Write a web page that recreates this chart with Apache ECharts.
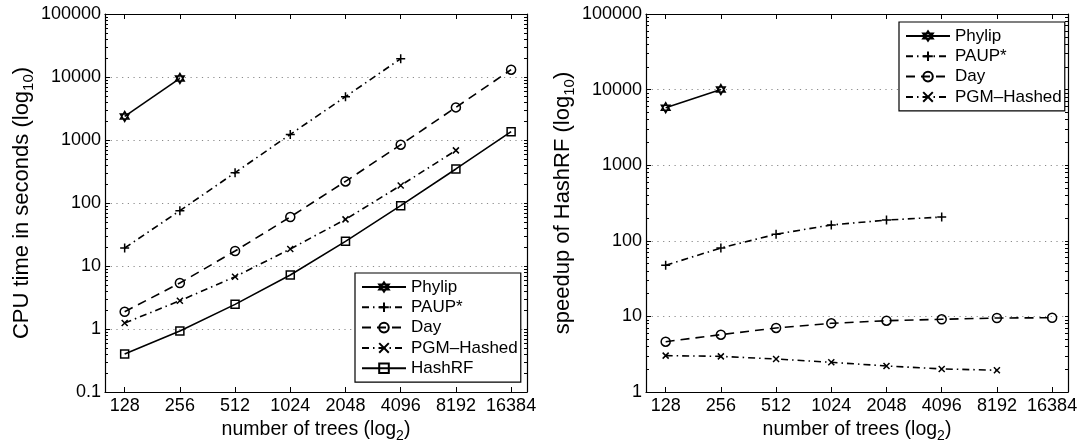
<!DOCTYPE html>
<html><head><meta charset="utf-8">
<script src="https://cdn.jsdelivr.net/npm/echarts@6/dist/echarts.min.js"></script>
<style>html,body{margin:0;padding:0;background:#fff}#c{width:1078px;height:443px}</style>
</head><body><div id="c"></div>
<script>
// ---- data ----
const trees = [128, 256, 512, 1024, 2048, 4096, 8192, 16384];
// left: CPU time in seconds
const cpuPhylip = [2370, 9500];
const cpuPaup = [19.3, 75.5, 303, 1227, 4870, 19500];
const cpuDay = [1.88, 5.37, 17.3, 60, 220, 842, 3295, 13060];
const cpuPgm = [1.245, 2.81, 6.76, 18.6, 55, 190, 684];
const cpuHashRF = [0.40, 0.93, 2.46, 7.2, 24.6, 90.6, 347, 1355];
// right: speedup of HashRF
const spPhylip = [5770, 10000];
const spPaup = [47.4, 80.3, 122, 162, 188, 206];
const spDay = [4.63, 5.73, 7.03, 8.1, 8.77, 9.15, 9.52, 9.6];
const spPgm = [3.03, 2.96, 2.73, 2.47, 2.21, 2.02, 1.94];
const namesLeft = ['Phylip', 'PAUP*', 'Day', 'PGM\u2013Hashed', 'HashRF'];
const namesRight = ['Phylip', 'PAUP*', 'Day', 'PGM\u2013Hashed'];
const yMajorLeft = [0.1, 1, 10, 100, 1000, 10000, 100000];
const yMajorRight = [1, 10, 100, 1000, 10000, 100000];

// ---- helpers ----
const FONT = 'Liberation Sans, Arial, Helvetica, sans-serif';
const pairs = vals => vals.map((v, i) => [trees[i], v]);
function minorTicks(majors) {
  const out = [];
  for (let k = 0; k < majors.length - 1; k++) for (let m = 1; m <= 9; m++) out.push(+(majors[k] * m).toPrecision(6));
  out.push(majors[majors.length - 1]);
  return out;
}
const fmt = v => String(parseFloat(Number(v).toPrecision(6)));
const styles = {
  'Phylip': { symbol: 'path://M5,0L9.33,7.5L0.67,7.5ZM5,10L0.67,2.5L9.33,2.5Z', size: 10, type: 'solid' },
  'PAUP*': { symbol: 'path://M0,5L10,5M5,0L5,10', size: 9, type: [7, 4, 1.5, 4] },
  'Day': { symbol: 'circle', size: 9, type: [9, 6] },
  'PGM\u2013Hashed': { symbol: 'path://M0,0L10,10M10,0L0,10', size: 6, type: [7, 4, 1.5, 4] },
  'HashRF': { symbol: 'rect', size: 8, type: 'solid' }
};
function mkSeries(name, vals, gi) {
  const s = styles[name];
  return {
    type: 'line', name, data: pairs(vals), xAxisIndex: gi * 2, yAxisIndex: gi * 3,
    symbol: s.symbol, symbolSize: s.size, symbolKeepAspect: true, showAllSymbol: true,
    lineStyle: { color: '#000', width: 1.6, type: s.type },
    itemStyle: { color: 'rgba(255,255,255,0)', borderColor: '#000', borderWidth: 1.5 },
    emphasis: { disabled: true }, animation: false, z: 5
  };
}
const grids = [
  { left: 105, top: 14, width: 422, height: 378, outerBoundsMode: 'none', containLabel: false },
  { left: 646, top: 14, width: 422, height: 378, outerBoundsMode: 'none', containLabel: false }
];
const xAxes = [], yAxes = [];
const ylims = [[0.1, 100000], [1, 100000]];
const ynames = [
  '{a|CPU time in seconds (log}{s|10}{a|)}',
  '{a|speedup of HashRF (log}{s|10}{a|)}'
];
function nameStyle(fs) {
  return {
    fontSize: fs, fontFamily: FONT, color: '#000',
    rich: {
      a: { fontSize: fs, fontFamily: FONT, color: '#000' },
      s: { fontSize: Math.round(fs * 0.7), fontFamily: FONT, color: '#000', padding: [Math.round(fs * 0.6), 0, 0, 0] }
    }
  };
}
[0, 1].forEach(gi => {
  const axLine = { show: true, lineStyle: { color: '#000', width: 1.2 } };
  xAxes.push({
    gridIndex: gi, type: 'log', logBase: 2, min: 100, max: 20000, position: 'bottom',
    axisLine: axLine,
    axisTick: { show: true, inside: true, length: 5, customValues: trees, lineStyle: { color: '#000' } },
    axisLabel: { show: true, customValues: trees, formatter: fmt, fontSize: 18, fontFamily: FONT, color: '#000', margin: 5 },
    splitLine: { show: false }, minorTick: { show: false },
    name: '{a|number of trees (log}{s|2}{a|)}', nameLocation: 'middle', nameGap: 19,
    nameTextStyle: nameStyle(19.5)
  });
  xAxes.push({
    gridIndex: gi, type: 'log', logBase: 2, min: 100, max: 20000, position: 'top',
    axisLine: axLine,
    axisTick: { show: true, inside: true, length: 5, customValues: trees, lineStyle: { color: '#000' } },
    axisLabel: { show: false }, splitLine: { show: false }
  });
  const majors = gi === 0 ? yMajorLeft : yMajorRight;
  const ymin = ylims[gi][0], ymax = ylims[gi][1];
  yAxes.push({
    gridIndex: gi, type: 'log', logBase: 10, min: ymin, max: ymax, position: 'left',
    axisLine: axLine,
    axisTick: { show: true, inside: true, length: 5, lineStyle: { color: '#000' } },
    axisLabel: { show: true, formatter: fmt, fontSize: 18, fontFamily: FONT, color: '#000', margin: 4 },
    splitLine: { show: true, lineStyle: { color: '#8a8a8a', width: 1, type: [1.2, 4.5] } },
    name: ynames[gi], nameLocation: 'middle', nameGap: 69, nameRotate: 90,
    nameTextStyle: nameStyle(22)
  });
  yAxes.push({
    gridIndex: gi, type: 'log', logBase: 10, min: ymin, max: ymax, position: 'left',
    axisLine: { show: false },
    axisTick: { show: true, inside: true, length: 3, customValues: minorTicks(majors), lineStyle: { color: '#000' } },
    axisLabel: { show: false }, splitLine: { show: false }
  });
  yAxes.push({
    gridIndex: gi, type: 'log', logBase: 10, min: ymin, max: ymax, position: 'right',
    axisLine: axLine,
    axisTick: { show: true, inside: true, length: 3, customValues: minorTicks(majors), lineStyle: { color: '#000' } },
    axisLabel: { show: false }, splitLine: { show: false }
  });
});
const series = [
  mkSeries('Phylip', cpuPhylip, 0), mkSeries('PAUP*', cpuPaup, 0), mkSeries('Day', cpuDay, 0),
  mkSeries('PGM\u2013Hashed', cpuPgm, 0), mkSeries('HashRF', cpuHashRF, 0),
  mkSeries('Phylip', spPhylip, 1), mkSeries('PAUP*', spPaup, 1), mkSeries('Day', spDay, 1),
  mkSeries('PGM\u2013Hashed', spPgm, 1)
];
const legendBase = {
  orient: 'vertical', itemWidth: 44, itemHeight: 12, itemGap: 0.3,
  padding: [4, 3, 4, 6], backgroundColor: '#fff', borderColor: '#000', borderWidth: 1.2,
  textStyle: { fontSize: 17, fontFamily: FONT, color: '#000', lineHeight: 20 },
  selectedMode: false, z: 10
};
const chart = echarts.init(document.getElementById('c'), null, { renderer: 'canvas' });
chart.setOption({
  animation: false, backgroundColor: '#fff',
  grid: grids, xAxis: xAxes, yAxis: yAxes, series,
  legend: [
    Object.assign({}, legendBase, { data: namesLeft, left: 355, top: 273 }),
    Object.assign({}, legendBase, { data: namesRight, left: 899, top: 22 })
  ]
});
</script></body></html>
